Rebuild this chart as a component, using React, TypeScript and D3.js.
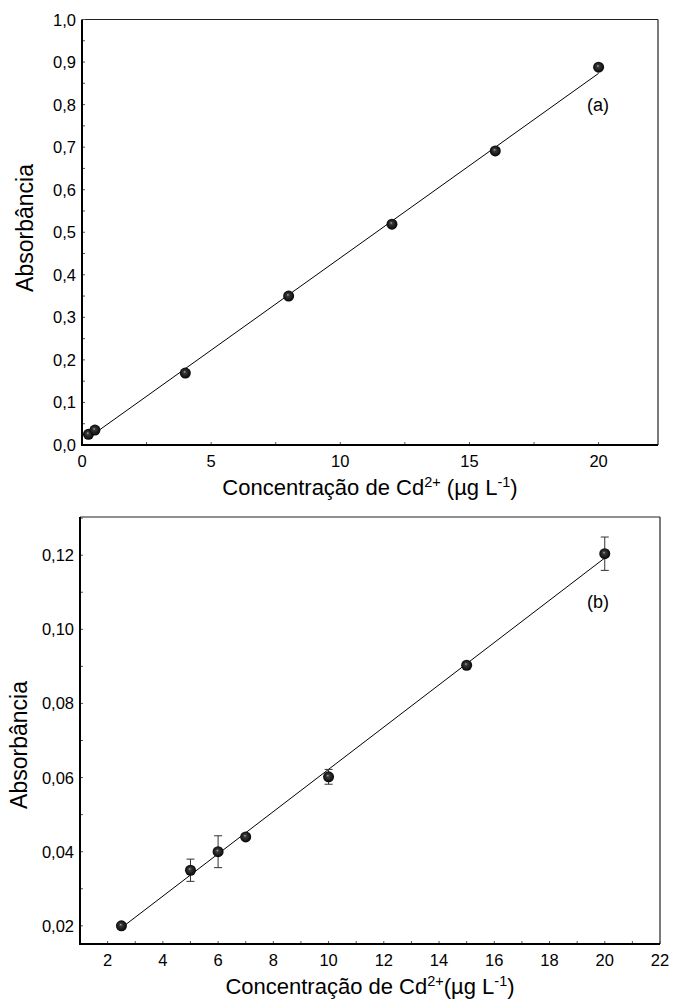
import React, { useEffect, useRef } from 'react'
import * as d3 from 'd3'

// panel (a)
const concA = [0.25, 0.5, 4, 8, 12, 16, 20]
const absA = [0.025, 0.035, 0.169, 0.35, 0.519, 0.691, 0.888]
const xTicksA = [0, 5, 10, 15, 20]
const yTicksA = [0, 0.1, 0.2, 0.3, 0.4, 0.5, 0.6, 0.7, 0.8, 0.9, 1.0]

// panel (b)
const concB = [2.5, 5, 6, 7, 10, 15, 20]
const absB = [0.02, 0.035, 0.04, 0.044, 0.0602, 0.0903, 0.1204]
const errB = [0, 0.003, 0.0043, 0, 0.002, 0, 0.0045]
const xTicksB = [2, 4, 6, 8, 10, 12, 14, 16, 18, 20, 22]
const yTicksB = [0.02, 0.04, 0.06, 0.08, 0.1, 0.12]

const FONT = 'Liberation Sans, Arial, sans-serif'

interface IPanel {
  conc: number[]
  abs: number[]
  err?: number[]
  xTicks: number[]
  yTicks: number[]
  xMinor: number
  yMinor: number
  xDomain: [number, number]
  yDomain: [number, number]
  box: { left: number; right: number; top: number; bottom: number }
  yFmt: string
  tag: string
  tagPos: [number, number]
  spaceBeforeParen: boolean
  yLabelX: number
  yLabelY: number
}

const fit = (xs: number[], ys: number[]) => {
  const mx = d3.mean(xs) as number
  const my = d3.mean(ys) as number
  const sxy = d3.sum(xs, (x, i) => (x - mx) * (ys[i] - my))
  const sxx = d3.sum(xs, x => (x - mx) * (x - mx))
  const b = sxy / sxx
  return { b, a: my - b * mx }
}

const drawPanel = (g: d3.Selection<SVGGElement, unknown, null, undefined>, p: IPanel) => {
  const { box } = p
  const x = d3.scaleLinear().domain(p.xDomain).range([box.left, box.right])
  const y = d3.scaleLinear().domain(p.yDomain).range([box.bottom, box.top])

  // frame: thin top/right, heavy left/bottom
  g.append('line').attr('x1', box.left).attr('x2', box.right).attr('y1', box.top).attr('y2', box.top)
    .attr('stroke', '#222').attr('stroke-width', 1.2)
  g.append('line').attr('x1', box.right).attr('x2', box.right).attr('y1', box.top).attr('y2', box.bottom)
    .attr('stroke', '#222').attr('stroke-width', 1.2)

  // inward ticks
  const xt = d3.range(p.xDomain[0], p.xDomain[1] + 1e-9, p.xMinor)
  g.selectAll('.xt').data(xt).enter().append('line')
    .attr('x1', d => x(d)).attr('x2', d => x(d))
    .attr('y1', box.bottom).attr('y2', box.bottom - 3)
    .attr('stroke', '#555').attr('stroke-width', 1)
  const yStart = Math.ceil(p.yDomain[0] / p.yMinor - 1e-9) * p.yMinor
  const yt = d3.range(yStart, p.yDomain[1] + 1e-9, p.yMinor)
  g.selectAll('.yt').data(yt).enter().append('line')
    .attr('x1', box.left).attr('x2', box.left + 3)
    .attr('y1', d => y(d)).attr('y2', d => y(d))
    .attr('stroke', '#555').attr('stroke-width', 1)

  g.append('line').attr('x1', box.left).attr('x2', box.left).attr('y1', box.top).attr('y2', box.bottom + 1)
    .attr('stroke', '#000').attr('stroke-width', 2)
  g.append('line').attr('x1', box.left - 1).attr('x2', box.right).attr('y1', box.bottom).attr('y2', box.bottom)
    .attr('stroke', '#000').attr('stroke-width', 2)

  // tick labels
  const fmt = d3.format(p.yFmt)
  g.selectAll('.yl').data(p.yTicks).enter().append('text')
    .attr('x', box.left - 6).attr('y', d => y(d) + 6)
    .attr('text-anchor', 'end').attr('font-size', 16.5).attr('font-family', FONT)
    .text(d => fmt(d).replace('.', ','))
  g.selectAll('.xl').data(p.xTicks).enter().append('text')
    .attr('x', d => x(d)).attr('y', box.bottom + 22)
    .attr('text-anchor', 'middle').attr('font-size', 16.5).attr('font-family', FONT)
    .text(d => String(d))

  // regression line
  const { a, b } = fit(p.conc, p.abs)
  const x0 = d3.min(p.conc) as number
  const x1 = d3.max(p.conc) as number
  g.append('line')
    .attr('x1', x(x0)).attr('y1', y(a + b * x0))
    .attr('x2', x(x1)).attr('y2', y(a + b * x1))
    .attr('stroke', '#000').attr('stroke-width', 1)

  // error bars
  if (p.err) {
    const err = p.err
    const idx = d3.range(p.conc.length).filter(i => err[i] > 0)
    idx.forEach(i => {
      const cx = x(p.conc[i])
      const hi = y(p.abs[i] + err[i])
      const lo = y(p.abs[i] - err[i])
      const eb = g.append('g').attr('stroke', '#333').attr('stroke-width', 1)
      eb.append('line').attr('x1', cx).attr('x2', cx).attr('y1', hi).attr('y2', lo)
      eb.append('line').attr('x1', cx - 4).attr('x2', cx + 4).attr('y1', hi).attr('y2', hi)
      eb.append('line').attr('x1', cx - 4).attr('x2', cx + 4).attr('y1', lo).attr('y2', lo)
    })
  }

  // ball markers
  g.selectAll('.pt').data(p.conc).enter().append('circle')
    .attr('cx', d => x(d)).attr('cy', (d, i) => y(p.abs[i]))
    .attr('r', 5.5).attr('fill', 'url(#ball)')

  // tag
  g.append('text').attr('x', p.tagPos[0]).attr('y', p.tagPos[1])
    .attr('text-anchor', 'middle').attr('font-size', 18).attr('font-family', FONT)
    .text(p.tag)

  // axis titles
  const cx = (box.left + box.right) / 2
  const t = g.append('text').attr('x', cx).attr('y', box.bottom + 50)
    .attr('text-anchor', 'middle').attr('font-size', 22).attr('font-family', FONT)
  t.append('tspan').text('Concentração de Cd')
  t.append('tspan').attr('dy', -8).attr('font-size', 14.5).text('2+')
  t.append('tspan').attr('dy', 8).text(p.spaceBeforeParen ? ' (µg L' : '(µg L')
  t.append('tspan').attr('dy', -8).attr('font-size', 14.5).text('-1')
  t.append('tspan').attr('dy', 8).text(')')

  g.append('text')
    .attr('transform', `translate(${p.yLabelX},${p.yLabelY}) rotate(-90)`)
    .attr('text-anchor', 'middle').attr('font-size', 23).attr('font-family', FONT)
    .text('Absorbância')
}

const panelA: IPanel = {
  conc: concA,
  abs: absA,
  xTicks: xTicksA,
  yTicks: yTicksA,
  xMinor: 2.5,
  yMinor: 0.05,
  xDomain: [0, 22.3],
  yDomain: [0, 1.0],
  box: { left: 82, right: 658, top: 19.5, bottom: 445 },
  yFmt: '.1f',
  tag: '(a)',
  tagPos: [598, 111],
  spaceBeforeParen: true,
  yLabelX: 33,
  yLabelY: 228
}

const panelB: IPanel = {
  conc: concB,
  abs: absB,
  err: errB,
  xTicks: xTicksB,
  yTicks: yTicksB,
  xMinor: 1,
  yMinor: 0.01,
  xDomain: [1, 22],
  yDomain: [0.0151, 0.1303],
  box: { left: 80, right: 660, top: 517, bottom: 944 },
  yFmt: '.2f',
  tag: '(b)',
  tagPos: [598, 608],
  spaceBeforeParen: false,
  yLabelX: 27,
  yLabelY: 745
}

const App = () => {
  const ref = useRef<SVGSVGElement>(null)

  useEffect(() => {
    const svg = d3.select(ref.current)
    svg.selectAll('*').remove()

    const grad = svg.append('defs').append('radialGradient')
      .attr('id', 'ball').attr('cx', '50%').attr('cy', '50%').attr('r', '55%')
      .attr('fx', '42%').attr('fy', '38%')
    grad.append('stop').attr('offset', '0%').attr('stop-color', '#b0b0b0')
    grad.append('stop').attr('offset', '22%').attr('stop-color', '#3a3a3a')
    grad.append('stop').attr('offset', '100%').attr('stop-color', '#000')

    drawPanel(svg.append('g') as any, panelA)
    drawPanel(svg.append('g') as any, panelB)
  }, [])

  return (
    <svg
      ref={ref}
      width={673}
      height={1003}
      style={{ position: 'absolute', left: 0, top: 0, background: '#fff' }}
    />
  )
}

export default App
